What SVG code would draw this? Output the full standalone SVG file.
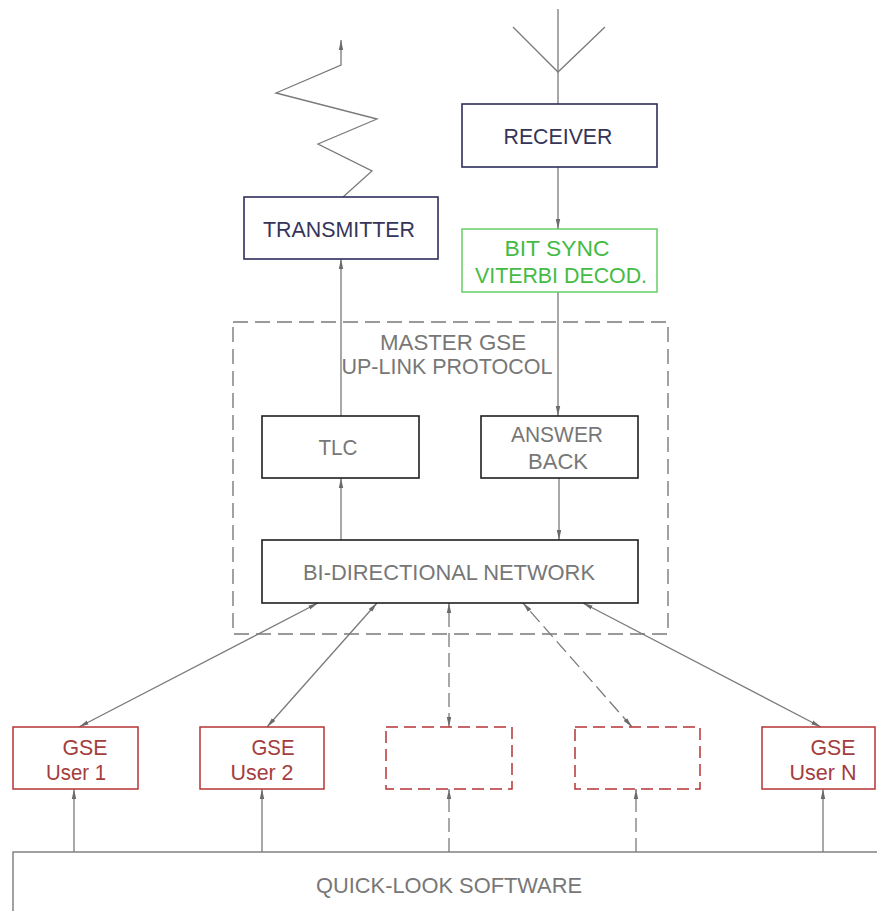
<svg xmlns="http://www.w3.org/2000/svg" width="877" height="911" viewBox="0 0 877 911">
<style>
text{font-family:"Liberation Sans",Arial,sans-serif;font-size:22px;text-anchor:middle}
.ln{stroke:#7a7a7a;stroke-width:1.3;fill:none}
.dl{stroke:#7a7a7a;stroke-width:1.3;fill:none;stroke-dasharray:14 6}
.nv{fill:#fff;stroke:#2e2e5e;stroke-width:1.6}
.tnv{fill:#35355a}
.gr{fill:#fff;stroke:#5ccc5c;stroke-width:1.4}
.tgr{fill:#44bb44}
.bk{fill:#fff;stroke:#1e1e1e;stroke-width:1.6}
.tg{fill:#777}
.rd{fill:#fff;stroke:#b53535;stroke-width:1.5}
.rdd{fill:#fff;stroke:#b53535;stroke-width:1.5;stroke-dasharray:12 6}
.trd{fill:#a43d3d}
</style>
<defs>
<marker id="ah" viewBox="0 0 10 6" refX="10" refY="3" markerWidth="10" markerHeight="6" markerUnits="userSpaceOnUse" orient="auto-start-reverse">
<path d="M0,0.8 L10,3 L0,5.2 Z" fill="#6a6a6a"/>
</marker>
</defs>

<g id="master-gse">
<rect x="233" y="322" width="435" height="312" fill="none" stroke="#7a7a7a" stroke-width="1.4" stroke-dasharray="15 7"/>
<text class="tg" x="453" y="350" textLength="146" lengthAdjust="spacingAndGlyphs">MASTER  GSE</text>
<text class="tg" x="447" y="374" textLength="211" lengthAdjust="spacingAndGlyphs">UP-LINK PROTOCOL</text>
</g>

<g id="connectors">
<polyline class="ln" points="343,197 372,171 318,144 377,119 276,93 341,65 341,40" marker-end="url(#ah)"/>
<line class="ln" x1="558" y1="9" x2="558" y2="104"/>
<polyline class="ln" points="513,27 558,72 605,27"/>
<line class="ln" x1="558" y1="167" x2="558" y2="229" marker-end="url(#ah)"/>
<line class="ln" x1="558" y1="292" x2="558" y2="416" marker-end="url(#ah)"/>
<line class="ln" x1="341" y1="416" x2="341" y2="259" marker-end="url(#ah)"/>
<line class="ln" x1="341" y1="540" x2="341" y2="478" marker-end="url(#ah)"/>
<line class="ln" x1="559" y1="478" x2="559" y2="540" marker-end="url(#ah)"/>
<line class="ln" x1="79" y1="727" x2="318" y2="603" marker-start="url(#ah)" marker-end="url(#ah)"/>
<line class="ln" x1="267" y1="727" x2="377" y2="603" marker-start="url(#ah)" marker-end="url(#ah)"/>
<line class="dl" x1="449" y1="727" x2="449" y2="603" marker-start="url(#ah)" marker-end="url(#ah)"/>
<line class="dl" x1="632" y1="727" x2="523" y2="603" marker-start="url(#ah)" marker-end="url(#ah)"/>
<line class="ln" x1="821" y1="727" x2="583" y2="603" marker-start="url(#ah)" marker-end="url(#ah)"/>
<line class="ln" x1="74" y1="852" x2="74" y2="789" marker-end="url(#ah)"/>
<line class="ln" x1="262" y1="852" x2="262" y2="789" marker-end="url(#ah)"/>
<line class="dl" x1="449" y1="852" x2="449" y2="789" marker-end="url(#ah)"/>
<line class="dl" x1="636" y1="852" x2="636" y2="789" marker-end="url(#ah)"/>
<line class="ln" x1="823" y1="852" x2="823" y2="789" marker-end="url(#ah)"/>
</g>

<g id="transmitter">
<rect class="nv" x="244" y="197" width="194" height="62"/>
<text class="tnv" x="339" y="237" textLength="152" lengthAdjust="spacingAndGlyphs">TRANSMITTER</text>
</g>
<g id="receiver">
<rect class="nv" x="462" y="104" width="195" height="63"/>
<text class="tnv" x="558" y="144" textLength="109" lengthAdjust="spacingAndGlyphs">RECEIVER</text>
</g>
<g id="bit-sync">
<rect class="gr" x="462" y="229" width="195" height="63"/>
<text class="tgr" x="557" y="256" textLength="105" lengthAdjust="spacingAndGlyphs">BIT  SYNC</text>
<text class="tgr" x="561" y="283" textLength="172" lengthAdjust="spacingAndGlyphs">VITERBI DECOD.</text>
</g>
<g id="tlc">
<rect class="bk" x="262" y="416" width="157" height="62"/>
<text class="tg" x="338" y="455" textLength="39" lengthAdjust="spacingAndGlyphs">TLC</text>
</g>
<g id="answer-back">
<rect class="bk" x="481" y="416" width="157" height="62"/>
<text class="tg" x="557" y="442" textLength="92" lengthAdjust="spacingAndGlyphs">ANSWER</text>
<text class="tg" x="558" y="469" textLength="60" lengthAdjust="spacingAndGlyphs">BACK</text>
</g>
<g id="bi-directional-network">
<rect class="bk" x="262" y="540" width="376" height="63"/>
<text class="tg" x="449" y="580" textLength="292" lengthAdjust="spacingAndGlyphs">BI-DIRECTIONAL NETWORK</text>
</g>

<g id="gse-user-1">
<rect class="rd" x="13" y="727" width="125" height="62"/>
<text class="trd" x="85" y="755" textLength="45" lengthAdjust="spacingAndGlyphs">GSE</text>
<text class="trd" x="76" y="780" textLength="60" lengthAdjust="spacingAndGlyphs">User 1</text>
</g>
<g id="gse-user-2">
<rect class="rd" x="200" y="727" width="124" height="62"/>
<text class="trd" x="273" y="755" textLength="43" lengthAdjust="spacingAndGlyphs">GSE</text>
<text class="trd" x="262" y="780" textLength="63" lengthAdjust="spacingAndGlyphs">User 2</text>
</g>
<g id="gse-user-3">
<rect class="rdd" x="386" y="727" width="126" height="62"/>
</g>
<g id="gse-user-4">
<rect class="rdd" x="575" y="727" width="125" height="62"/>
</g>
<g id="gse-user-n">
<rect class="rd" x="762" y="727" width="113" height="62"/>
<text class="trd" x="833" y="755" textLength="45" lengthAdjust="spacingAndGlyphs">GSE</text>
<text class="trd" x="823" y="780" textLength="67" lengthAdjust="spacingAndGlyphs">User N</text>
</g>

<g id="quick-look-software">
<rect x="13" y="852" width="880" height="80" fill="#fff" stroke="#7a7a7a" stroke-width="1.4"/>
<text class="tg" x="449" y="893" textLength="266" lengthAdjust="spacingAndGlyphs">QUICK-LOOK SOFTWARE</text>
</g>
</svg>
